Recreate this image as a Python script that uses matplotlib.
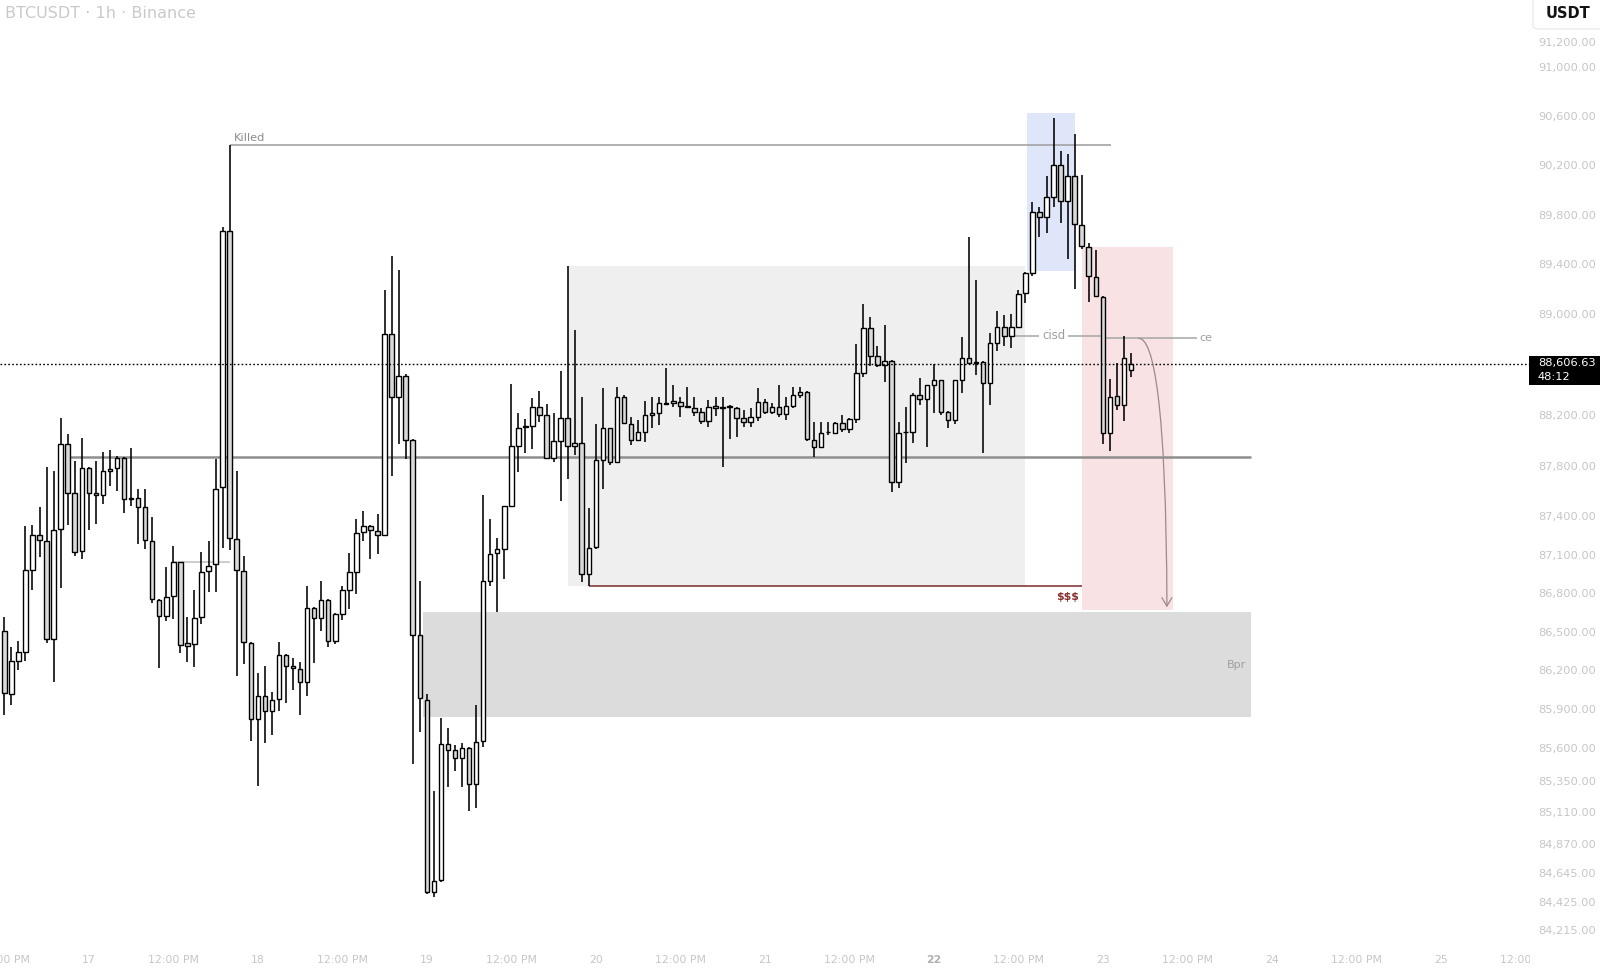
import matplotlib
matplotlib.use('Agg')
import matplotlib.pyplot as plt
import numpy as np
import pandas as pd
from matplotlib.patches import Rectangle, FancyBboxPatch, FancyArrowPatch
from matplotlib.path import Path
from matplotlib.ticker import FixedLocator, NullLocator, FuncFormatter

# ---------------- data ----------------
start_time = '2025-11-16 12:00'
opens = [86506, 86017, 86275, 86345, 86979, 87257, 87208, 86441, 87299, 87973, 87582, 87132,
         87779, 87582, 87571, 87760, 87779, 87858, 87547, 87545, 87476, 87208, 86747, 86623,
         86778, 87041, 86410, 86405, 86618, 86971, 87025, 87628, 89669, 87219, 86974, 86413,
         85824, 86001, 85884, 85978, 86321, 86234, 86213, 86113, 86686, 86608, 86750, 86429,
         86636, 86822, 86964, 87276, 87327, 87287, 87253, 88843, 88339, 88505, 88003, 86478,
         85973, 84499, 84590, 85632, 85589, 85524, 85605, 85328, 85655, 86894, 87110, 87143,
         87478, 87955, 88105, 88110, 88261, 88201, 87858, 87997, 88173, 87957, 87974, 86953,
         87160, 87844, 88094, 87831, 88339, 88128, 88002, 88068, 88199, 88213, 88297, 88292,
         88300, 88270, 88252, 88221, 88155, 88270, 88252, 88268, 88252, 88173, 88147, 88181,
         88305, 88226, 88265, 88207, 88273, 88358, 88384, 88002, 87945, 88068, 88060, 88134,
         88087, 88166, 88530, 88888, 88667, 88596, 88630, 87668, 88068, 88068, 88358, 88323,
         88434, 88474, 88226, 88160, 88474, 88649, 88614, 88622, 88455, 88768, 88901, 88826,
         88901, 89168, 89328, 89824, 89779, 89940, 90201, 89912, 90114, 89717, 89542, 89301,
         89141, 88055, 88350, 88279, 88560]
highs = [86612, 86379, 86426, 87325, 87331, 87476, 87787, 87760, 88173, 88049, 87839, 88018,
         87791, 87836, 87907, 87926, 87876, 87865, 87939, 87613, 87613, 87398, 86752, 87002,
         87168, 87045, 86612, 86828, 87124, 87208, 87851, 89700, 90361, 87755, 87089, 86420,
         86179, 86236, 86035, 86423, 86328, 86294, 86265, 86855, 86690, 86896, 86755, 86642,
         86855, 87117, 87383, 87440, 87335, 87416, 89197, 89469, 89355, 88522, 88010, 86894,
         86016, 85272, 85835, 85753, 85622, 85638, 85610, 85934, 87568, 87379, 87227, 87485,
         88445, 88218, 88167, 88335, 88386, 88285, 88218, 88546, 89390, 88871, 88343, 87468,
         88126, 88411, 88100, 88423, 88358, 88181, 88160, 88310, 88339, 88339, 88569, 88434,
         88344, 88423, 88339, 88252, 88318, 88339, 88344, 88279, 88265, 88239, 88252, 88411,
         88324, 88297, 88434, 88339, 88423, 88423, 88390, 88147, 88147, 88147, 88147, 88199,
         88175, 88763, 89080, 88976, 88747, 88914, 88635, 88147, 88265, 88371, 88490, 88440,
         88601, 88480, 88230, 88480, 88821, 89622, 89274, 88625, 88848, 89029, 88994, 89002,
         89194, 89341, 89904, 89864, 90112, 90579, 90314, 90287, 90452, 90120, 89574, 89515,
         89145, 88482, 88609, 88827, 88693]
lows = [85856, 85932, 86203, 86275, 86825, 87080, 86415, 86113, 86838, 87331, 87092, 87064,
        87294, 87341, 87497, 87639, 87602, 87429, 87482, 87184, 87147, 86721, 86216, 86586,
        86597, 86332, 86265, 86226, 86558, 86812, 86812, 87150, 87134, 86159, 86253, 85656,
        85309, 85643, 85698, 85884, 85951, 86052, 85857, 86001, 86260, 86506, 86381, 86405,
        86591, 86676, 86795, 87208, 87066, 87106, 87245, 87720, 87971, 87851, 85476, 85728,
        84485, 84467, 84580, 85305, 85425, 85305, 85122, 85142, 85612, 86854, 86654, 86911,
        87470, 87746, 87898, 87931, 88140, 87850, 87831, 87521, 87696, 87880, 86887, 86852,
        87143, 87613, 87805, 87825, 88128, 87962, 87997, 87989, 88094, 88120, 88280, 88265,
        88186, 88255, 88192, 88128, 88107, 88192, 87791, 88007, 88029, 88107, 88102, 88155,
        88207, 88207, 88186, 88160, 88252, 88331, 87995, 87870, 87936, 88041, 88049, 88068,
        88055, 88134, 88498, 88591, 88583, 88462, 87594, 87621, 87818, 87981, 88279, 87949,
        88213, 88199, 88094, 88128, 88371, 88604, 88516, 87902, 88279, 88709, 88747, 88729,
        88897, 89092, 89306, 89617, 89654, 89859, 89730, 89440, 89199, 89521, 89100, 89140,
        87971, 87917, 88239, 88155, 88498]
closes = [86023, 86273, 86345, 86979, 87257, 87213, 86441, 87294, 87973, 87587, 87124, 87779,
          87582, 87568, 87760, 87776, 87858, 87535, 87535, 87476, 87216, 86752, 86623, 86773,
          87041, 86397, 86391, 86608, 86964, 87014, 87618, 89669, 87229, 86981, 86423, 85824,
          86001, 85884, 85968, 86321, 86236, 86222, 86113, 86686, 86608, 86750, 86429, 86636,
          86822, 86964, 87270, 87327, 87294, 87253, 88843, 88339, 88505, 88003, 86473, 85983,
          84499, 84587, 85632, 85589, 85524, 85605, 85328, 85645, 86894, 87103, 87143, 87478,
          87955, 88100, 88110, 88261, 88201, 87858, 87997, 88173, 87957, 87980, 86953, 87153,
          87847, 88094, 87831, 88339, 88134, 88002, 88068, 88199, 88213, 88292, 88286, 88310,
          88273, 88260, 88221, 88155, 88265, 88252, 88265, 88262, 88173, 88147, 88181, 88305,
          88226, 88265, 88207, 88273, 88358, 88384, 88009, 87945, 88060, 88062, 88134, 88087,
          88166, 88530, 88888, 88667, 88596, 88630, 87668, 88060, 88062, 88358, 88323, 88434,
          88474, 88226, 88160, 88474, 88649, 88614, 88622, 88455, 88768, 88901, 88826, 88901,
          89162, 89328, 89824, 89779, 89940, 90201, 89912, 90114, 89725, 89547, 89306, 89146,
          88055, 88344, 88279, 88654, 88606.63]

last_price = 88606.63
countdown = '48:12'
title = 'BTCUSDT · 1h · Binance'
quote = 'USDT'

y_ticks = [91200, 91000, 90600, 90200, 89800, 89400, 89000, 88200, 87800, 87400, 87100,
           86800, 86500, 86200, 85900, 85600, 85350, 85110, 84870, 84645, 84425, 84215]
x_tick_times = pd.date_range('2025-11-16 12:00', '2025-11-25 12:00', freq='12h')

# levels / zones (price levels and hour offsets from 17 Nov 00:00)
killed_level = 90361
mid_level = 87865
short_level = 87045
ssl_level = 86852
cisd_level = 88829
ce_level = 88808
range_box = (68, 133, 86852, 89390)
bpr_box = (47.5, 165, 85838, 86652)
blue_box = (133.2, 140.0, 89343, 90620)
pink_box = (141.1, 154.0, 86668, 89542)

# ---------------- figure ----------------
W, H = 1600, 971
fig = plt.figure(figsize=(W / 100, H / 100), dpi=100)
fig.patch.set_facecolor('white')
ax = fig.add_axes([0, 26 / H, 1530 / W, 945 / H])
ax.set_facecolor('white')
ax.set_yscale('log')

ref = pd.Timestamp('2025-11-17 00:00')
times = pd.date_range(start_time, periods=len(opens), freq='h')
x = ((times - ref) / pd.Timedelta(hours=1)).to_numpy().astype(float)
o = np.array(opens, float); h = np.array(highs, float)
l = np.array(lows, float); c = np.array(closes, float)

# zones
def box(b, color, z=1):
    x0, x1, y0, y1 = b
    ax.add_patch(Rectangle((x0, y0), x1 - x0, y1 - y0, facecolor=color,
                           edgecolor='none', zorder=z))

box(range_box, '#efefef')
box(bpr_box, '#dcdcdc')
box(blue_box, '#dfe6fa')
box(pink_box, '#f9e2e4')

# levels
ax.hlines(killed_level, 20, 145.1, color='#a3a3a3', lw=1.2, zorder=2)
ax.hlines(mid_level, -2.7, 165, color='#8e8e8e', lw=1.8, zorder=2)
ax.hlines(short_level, 12, 20, color='#c4c4c4', lw=1.2, zorder=2)
ax.hlines(ssl_level, 71.1, 141.0, color='#7a2a2a', lw=1.1, zorder=2)
ax.hlines(cisd_level, 131.1, 143.9, color='#a6a6a6', lw=1.1, zorder=2)
ax.hlines(ce_level, 144.5, 159.9, color='#a6a6a6', lw=1.1, zorder=2)

# candles
up = c >= o
fills = np.where(up, '#ffffff', '#d9d9d9')
ax.vlines(x, l, h, color='black', lw=1.15, zorder=3)
bottoms = np.minimum(o, c)
heights = np.maximum(np.abs(c - o), 1.0)
ax.bar(x, heights, bottom=bottoms, width=0.64, color=fills, edgecolor='black',
       linewidth=1.0, zorder=4)

# last price dotted line
ax.axhline(last_price, color='black', lw=1.0, ls=(0, (1.2, 1.6)), zorder=5)

# texts
ax.annotate('Killed', xy=(20, killed_level), xytext=(3, 3), textcoords='offset points',
            ha='left', va='baseline', fontsize=8.2, color='#8c8c8c', zorder=6)
ax.text(137.0, cisd_level, 'cisd', ha='center', va='center', fontsize=8.4, color='#9e9e9e',
        zorder=6, bbox=dict(boxstyle='square,pad=0.25', fc='white', ec='none'))
ax.text(158.7, ce_level, 'ce', ha='center', va='center', fontsize=8.0, color='#9e9e9e',
        zorder=6, bbox=dict(boxstyle='square,pad=0.25', fc='white', ec='none'))
ax.annotate('Bpr', xy=(165, np.sqrt(bpr_box[2] * bpr_box[3])), xytext=(-3, 0),
            textcoords='offset points', ha='right', va='center', fontsize=8.0,
            color='#a0a0a0', zorder=6)
ax.annotate('$$$', xy=(141.0, ssl_level), xytext=(-2, -7.5), textcoords='offset points',
            ha='right', va='center', fontsize=7.8, fontweight='bold', color='#8b2e2e', zorder=6)

# projection arrow
verts = [(149.1, ce_level), (151.2, ce_level), (153.0, 88300), (153.1, 86690)]
path = Path(verts, [Path.MOVETO, Path.CURVE4, Path.CURVE4, Path.CURVE4])
arrow = FancyArrowPatch(path=path, arrowstyle='->,head_length=0.5,head_width=0.3',
                        mutation_scale=12, color='#a08888', lw=0.9, zorder=6)
ax.add_patch(arrow)

# axes styling
ax.set_xlim(-12.61, 204.66)
ax.set_ylim(84101, 91547)
for s in ax.spines.values():
    s.set_visible(False)

ax.yaxis.set_major_locator(FixedLocator(y_ticks))
ax.yaxis.set_minor_locator(NullLocator())
ax.yaxis.set_major_formatter(FuncFormatter(lambda v, p: f'{v:,.2f}'))
ax.yaxis.tick_right()
ax.tick_params(axis='y', which='both', length=0, pad=5.8, labelsize=8.2, labelcolor='#c6c6c6')

xt = ((x_tick_times - ref) / pd.Timedelta(hours=1)).to_numpy().astype(float)
xl = ['12:00 PM' if t.hour == 12 else str(t.day) for t in x_tick_times]
ax.set_xticks(xt)
ax.set_xticklabels(xl)
ax.xaxis.set_minor_locator(NullLocator())
ax.tick_params(axis='x', which='both', length=0, pad=7, labelsize=7.8, labelcolor='#c6c6c6')
for lbl in ax.get_xticklabels():
    lbl.set_fontfamily(['Liberation Sans Narrow', 'DejaVu Sans'])
    if lbl.get_text() == '22':
        lbl.set_color('#b0b0b0')
        lbl.set_fontweight('bold')

# cover x labels spilling into the price scale
fig.add_artist(Rectangle((1530 / W, 0), 70 / W, 26 / H, transform=fig.transFigure,
                         facecolor='white', edgecolor='none', zorder=2))

# last price label
fig.add_artist(Rectangle((1529 / W, 1 - 385 / H), 71 / W, 29.5 / H, transform=fig.transFigure,
                         facecolor='black', edgecolor='none', zorder=3))
fig.text(1538 / W, 1 - 363.3 / H, f'{last_price:,.2f}', color='white', fontsize=8.2,
         va='center', ha='left', zorder=4)
fig.text(1538 / W, 1 - 376.7 / H, countdown, color='white', fontsize=8.2,
         va='center', ha='left', zorder=4)

# USDT box
fig.add_artist(FancyBboxPatch((1533 / W, 1 - 29 / H), 80 / W, 40 / H,
                              boxstyle='round,pad=0,rounding_size=0.004',
                              transform=fig.transFigure, facecolor='white',
                              edgecolor='#e6e6e6', lw=0.8, zorder=3))
fig.text(1568 / W, 1 - 13.5 / H, quote, color='#131313', fontsize=10.5, fontweight='bold',
         ha='center', va='center', zorder=4)

# title
fig.text(5 / W, 1 - 14 / H, title, color='#c9c9c9', fontsize=11.5, ha='left', va='center')

fig.savefig('out.png', dpi=100, facecolor='white')
